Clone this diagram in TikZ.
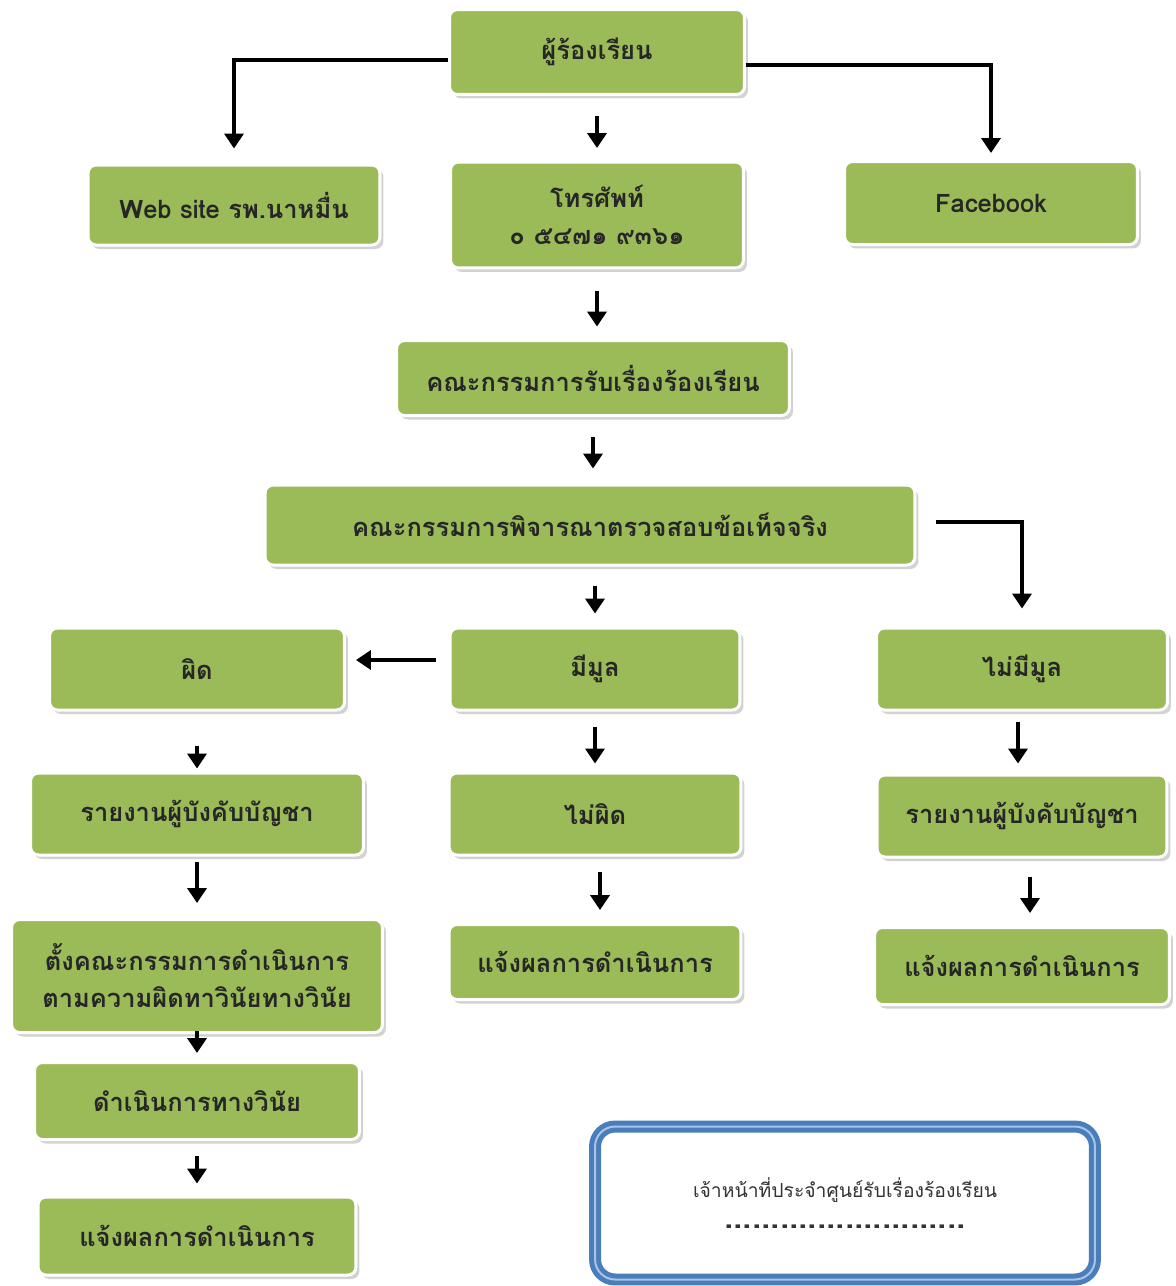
\documentclass[tikz,border=0pt]{standalone}
\usepackage{fontspec}
\setmainfont[Script=Thai]{Loma}
\usetikzlibrary{arrows.meta,shadows}
\definecolor{boxgreen}{HTML}{9BBB59}
\definecolor{noteblue}{HTML}{4A7EBB}
\definecolor{noteblue2}{HTML}{A9C4E8}

\begin{document}
\begin{tikzpicture}[x=0.02cm,y=-0.02cm,
  box/.style={draw=white, line width=0.06cm, fill=boxgreen, rounded corners=0.16cm,
    drop shadow={shadow xshift=0.07cm, shadow yshift=-0.08cm, fill=black!35},
    font=\bfseries\fontsize{14.5}{21}\selectfont, text=black!85, align=center, inner sep=0pt},
  arr/.style={line width=0.09cm, -{Triangle[width=0.38cm,length=0.3cm]},
    shorten <=0.35cm, shorten >=0.25cm}]
\useasboundingbox (0,0) rectangle (1176,1286);

% boxes
\node[box, minimum width=5.9cm, minimum height=1.7cm] (rongrian) at (597,52) {ผู้ร้องเรียน};
\node[box, minimum width=5.84cm, minimum height=1.6cm] (web) at (234,205) {Web site รพ.นาหมื่น};
\node[box, minimum width=5.86cm, minimum height=2.12cm] (tel) at (597,215) {โทรศัพท์\\๐ ๕๔๗๑ ๙๓๖๑};
\node[box, minimum width=5.86cm, minimum height=1.66cm] (fb) at (991,203) {Facebook};
\node[box, minimum width=7.86cm, minimum height=1.5cm] (rub) at (593,378) {คณะกรรมการรับเรื่องร้องเรียน};
\node[box, minimum width=13cm, minimum height=1.6cm] (truat) at (590,525) {คณะกรรมการพิจารณาตรวจสอบข้อเท็จจริง};
\node[box, minimum width=5.9cm, minimum height=1.64cm] (phit) at (197,669) {ผิด};
\node[box, minimum width=5.8cm, minimum height=1.64cm] (mimun) at (595,669) {มีมูล};
\node[box, minimum width=5.82cm, minimum height=1.64cm] (maimimun) at (1022,669) {ไม่มีมูล};
\node[box, minimum width=6.66cm, minimum height=1.64cm] (rayngan) at (197,814) {รายงานผู้บังคับบัญชา};
\node[box, minimum width=5.84cm, minimum height=1.64cm] (maiphit) at (595,814) {ไม่ผิด};
\node[box, minimum width=5.8cm, minimum height=1.64cm] (rayngantwo) at (1022,816) {รายงานผู้บังคับบัญชา};
\node[box, minimum width=7.42cm, minimum height=2.26cm] (tang) at (197,976) {ตั้งคณะกรรมการดำเนินการ\\ตามความผิดทาวินัยทางวินัย};
\node[box, minimum width=5.84cm, minimum height=1.5cm] (jaengmid) at (595,962) {แจ้งผลการดำเนินการ};
\node[box, minimum width=5.9cm, minimum height=1.54cm] (jaengright) at (1022,966) {แจ้งผลการดำเนินการ};
\node[box, minimum width=6.5cm, minimum height=1.54cm] (damnoen) at (197,1101) {ดำเนินการทางวินัย};
\node[box, minimum width=6.36cm, minimum height=1.56cm] (jaengleft) at (197,1236) {แจ้งผลการดำเนินการ};
\node[draw=noteblue, line width=0.1cm, double=noteblue2, double distance=0.04cm, fill=white,
  rounded corners=0.4cm, minimum width=10cm, minimum height=3.06cm, align=center,
  font=\fontsize{11}{20}\selectfont, text=black!80] (staff) at (845,1203)
  {เจ้าหน้าที่ประจำศูนย์รับเรื่องร้องเรียน\\[-2pt]{\bfseries\fontsize{19}{19}\selectfont ..........................}};

% connectors
\draw[arr, shorten <=0pt, shorten >=0.3cm] ([yshift=-0.16cm]rongrian.west) -| (web.north);
\draw[arr, shorten <=0pt, shorten >=0.14cm] ([yshift=-0.26cm]rongrian.east) -| (fb.north);
\draw[arr, shorten <=0.4cm] (rongrian.south) -- (rongrian.south |- tel.north);
\draw[arr, shorten <=0.44cm] (tel.south) -- (tel.south |- rub.north);
\draw[arr, shorten <=0.4cm, shorten >=0.3cm] (rub.south) -- (rub.south |- truat.north);
\draw[arr, shorten <=0.4cm, shorten >=0.26cm] ([xshift=0.1cm]truat.south) -- ([xshift=0.1cm]truat.south |- mimun.north);
\draw[arr, shorten <=0.4cm, shorten >=0.36cm] ([yshift=0.06cm]truat.east) -| (maimimun.north);
\draw[arr, shorten <=0.26cm, shorten >=0.2cm] ([yshift=0.18cm]mimun.west) -- ([yshift=0.18cm]mimun.west -| phit.east);
\draw[arr, shorten <=0.3cm, shorten >=0.16cm] (mimun.south) -- (mimun.south |- maiphit.north);
\draw[arr, shorten <=0.3cm, shorten >=0.26cm] ([xshift=0.1cm]maiphit.south) -- ([xshift=0.1cm]maiphit.south |- jaengmid.north);
\draw[arr, shorten <=0.7cm, shorten >=0.06cm] (phit.south) -- (phit.south |- rayngan.north);
\draw[arr, shorten <=0.1cm, shorten >=0.3cm] (rayngan.south) -- (rayngan.south |- tang.north);
\draw[arr, shorten <=-0.06cm, shorten >=0.16cm] (tang.south) -- (tang.south |- damnoen.north);
\draw[arr, shorten <=0.3cm, shorten >=0.24cm] (damnoen.south) -- (damnoen.south |- jaengleft.north);
\draw[arr, shorten <=0.2cm, shorten >=0.2cm] ([xshift=-0.08cm]maimimun.south) -- ([xshift=-0.08cm]maimimun.south |- rayngantwo.north);
\draw[arr, shorten <=0.36cm, shorten >=0.26cm] ([xshift=0.16cm]rayngantwo.south) -- ([xshift=0.16cm]rayngantwo.south |- jaengright.north);
\end{tikzpicture}
\end{document}
